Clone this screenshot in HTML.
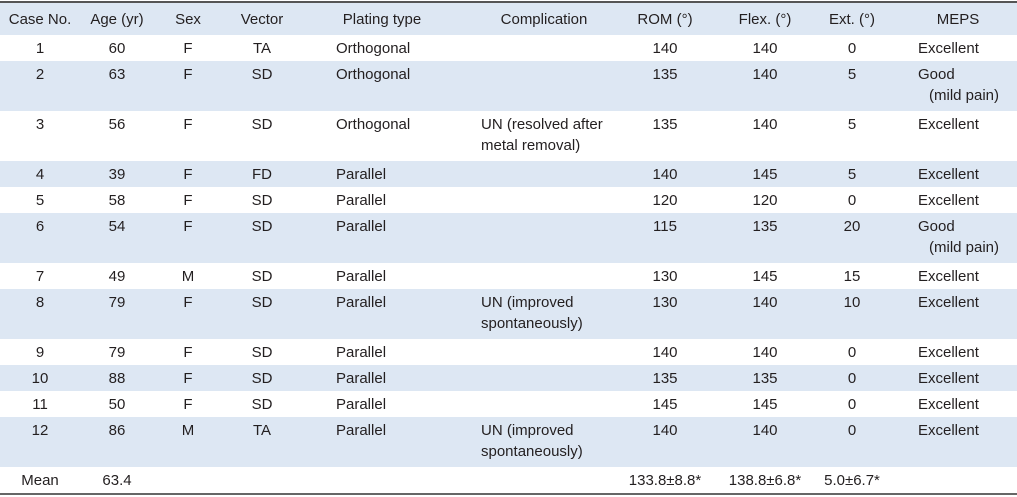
<!DOCTYPE html>
<html><head><meta charset="utf-8">
<style>
body{margin:0;width:1017px;height:497px;background:#fff;overflow:hidden;font-family:"Liberation Sans","Noto Sans CJK KR",sans-serif;color:#231f20;font-size:15px;}
#t{position:absolute;left:0;top:0;width:1017px;height:497px;}
.row{position:absolute;left:0;width:1017px;}
.c{position:absolute;line-height:21px;white-space:nowrap;}
.ctr{transform:translateX(-50%);text-align:center;}
</style></head><body>
<div id="t">
<div style="position:absolute;left:0;top:1px;width:1017px;height:2px;background:#555;z-index:2"></div>
<div style="position:absolute;left:0;top:493px;width:1017px;height:2px;background:#666;z-index:2"></div>
</div>
<script>
const headers=["Case No.","Age (yr)","Sex","Vector","Plating type","Complication","ROM (°)","Flex. (°)","Ext. (°)","MEPS"];
const rows=[
["1","60","F","TA","Orthogonal","","140","140","0","Excellent"],
["2","63","F","SD","Orthogonal","","135","140","5","Good|(mild pain)"],
["3","56","F","SD","Orthogonal","UN (resolved after|metal removal)","135","140","5","Excellent"],
["4","39","F","FD","Parallel","","140","145","5","Excellent"],
["5","58","F","SD","Parallel","","120","120","0","Excellent"],
["6","54","F","SD","Parallel","","115","135","20","Good|(mild pain)"],
["7","49","M","SD","Parallel","","130","145","15","Excellent"],
["8","79","F","SD","Parallel","UN (improved|spontaneously)","130","140","10","Excellent"],
["9","79","F","SD","Parallel","","140","140","0","Excellent"],
["10","88","F","SD","Parallel","","135","135","0","Excellent"],
["11","50","F","SD","Parallel","","145","145","0","Excellent"],
["12","86","M","TA","Parallel","UN (improved|spontaneously)","140","140","0","Excellent"],
["Mean","63.4","","","","","133.8±8.8*","138.8±6.8*","5.0±6.7*",""]
];
const colX=[40,117,188,262,336,481,665,765,852,918];
const colAlign=["c","c","c","c","l","l","c","c","c","l"];
const hdrX=[40,117,188,262,382,544,665,765,852,958];
const colNames=['case-no','age','sex','vector','plating','complication','rom','flex','ext','meps'];
const tbl=document.getElementById('t');
function addRow(y,h,bg,nm){const r=document.createElement('div');r.className='row';r.style.top=y+'px';r.style.height=h+'px';if(bg)r.style.background=bg;


tbl.appendChild(r);return r;}
function addCell(r,x,align,text,nm,dy){const c=document.createElement('div');c.className='c'+(align==='c'?' ctr':'');c.style.left=x+'px';c.style.top=dy+'px';
const parts=text.split('|');
c.innerHTML=parts.map((p,i)=>i===0?p:'<br><span style="padding-left:'+(nm.indexOf('meps')>=0?11:0)+'px">'+p+'</span>').join('');


r.appendChild(c);}
const hr=addRow(3,32,'#dde7f3','header-row');
headers.forEach((h,i)=>addCell(hr,hdrX[i],'c',h,'header-'+colNames[i],6));
let yPos=35;
rows.forEach((row,ri)=>{
 const tall=row.some(v=>v.indexOf('|')>=0);
 const h=ri===12?29:(tall?50:26);
 const r=addRow(yPos,h,ri%2===1?'#dde7f3':null,ri===12?'mean-row':'case-row-'+(ri+1));
 row.forEach((v,ci)=>{if(v!=='')addCell(r,colX[ci],colAlign[ci],v,(ri===12?'mean-':'case-'+(ri+1)+'-')+colNames[ci],3);});
 yPos+=h;
});
</script>
</body></html>
